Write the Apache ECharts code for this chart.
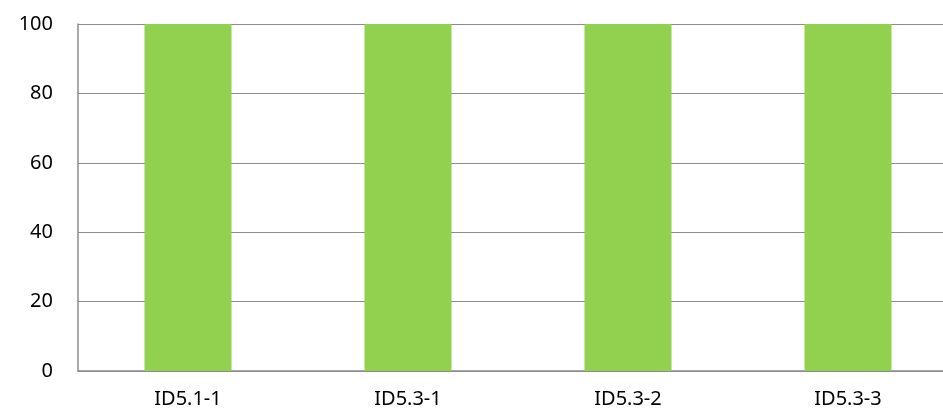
<!DOCTYPE html>
<html>
<head>
<meta charset="utf-8">
<script src="https://cdn.jsdelivr.net/npm/echarts@6/dist/echarts.min.js"></script>
<style>
  html, body { margin: 0; padding: 0; background: #fff; }
  #chart { width: 943px; height: 417px; }
</style>
</head>
<body>
<div id="chart"></div>
<script>
// 数据
var categories = ['ID5.1-1', 'ID5.3-1', 'ID5.3-2', 'ID5.3-3'];
var values = [100, 100, 100, 100];
var yTicks = [0, 20, 40, 60, 80, 100];

var myChart = echarts.init(document.getElementById('chart'));
myChart.setOption({
  animation: false,
  grid: { left: 78, width: 880, top: 24, height: 347, outerBoundsMode: 'none', containLabel: false },
  xAxis: {
    type: 'category',
    data: categories,
    axisLine: { lineStyle: { color: '#8c8c8c', width: 1.5 } },
    axisTick: { show: false },
    axisLabel: { color: '#000', fontSize: 20, fontFamily: 'Noto Sans', margin: 18 }
  },
  yAxis: {
    type: 'value',
    min: yTicks[0],
    max: yTicks[yTicks.length - 1],
    interval: 20,
    axisLine: { show: true, lineStyle: { color: '#8c8c8c', width: 1.5 } },
    axisTick: { show: false },
    axisLabel: { color: '#000', fontSize: 20, fontFamily: 'Noto Sans', margin: 25 },
    splitLine: { lineStyle: { color: '#8c8c8c', width: 1.2 } }
  },
  series: [{
    type: 'bar',
    data: values,
    barWidth: 87,
    itemStyle: { color: '#92D050' }
  }]
});
</script>
</body>
</html>
